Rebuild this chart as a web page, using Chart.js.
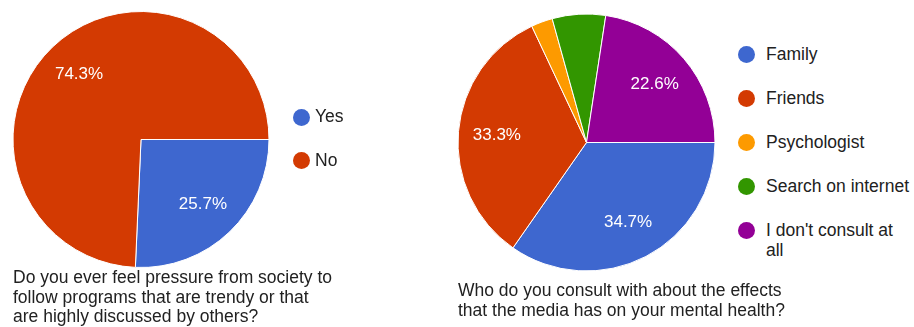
<!DOCTYPE html>
<html lang="en">
<head>
<meta charset="UTF-8">
<title>Survey pies</title>
<script src="https://cdn.jsdelivr.net/npm/chart.js"></script>
<style>
  body { margin: 0; width: 914px; height: 327px; position: relative; overflow: hidden; background: #fff;
         font-family: "Liberation Sans", Arial, sans-serif; color: #212121; }
  canvas { position: absolute; }
  .title { position: absolute; font-size: 17.5px; line-height: 19.7px; white-space: nowrap; }
  .item { position: absolute; font-size: 17.5px; line-height: 19.7px; width: 146px; }
  .dot { position: absolute; border-radius: 50%; }
</style>
</head>
<body>
<canvas id="pie1" width="282" height="279" style="left:0;top:0"></canvas>
<canvas id="pie2" width="279" height="279" style="left:447px;top:3px"></canvas>
<div class="title" id="title1" style="left:13px;top:268px"></div>
<div class="title" id="title2" style="left:458px;top:281px"></div>
<div id="legend1"></div>
<div id="legend2"></div>
<script>
// first question
const labels1 = ['Yes', 'No'];
const values1 = [25.7, 74.3];
const title1 = ['Do you ever feel pressure from society to',
                'follow programs that are trendy or that',
                'are highly discussed by others?'];

// second question
const labels2 = ['Family', 'Friends', 'Psychologist', 'Search on internet', "I don't consult at all"];
const values2 = [34.7, 33.3, 2.7, 6.7, 22.6];
const title2 = ['Who do you consult with about the effects',
                'that the media has on your mental health?'];

const palette = ['#3e67cf', '#d33a02', '#fd9a00', '#329600', '#930096'];

// percentage text inside the bigger slices
const pctLabels = {
  id: 'pctLabels',
  afterDatasetsDraw(chart) {
    const ctx = chart.ctx;
    const vals = chart.data.datasets[0].data;
    const total = vals.reduce((a, b) => a + b, 0);
    ctx.save();
    ctx.fillStyle = '#fff';
    ctx.font = '17px "Liberation Sans", Arial, sans-serif';
    ctx.textAlign = 'center';
    ctx.textBaseline = 'middle';
    chart.getDatasetMeta(0).data.forEach((arc, i) => {
      const pct = vals[i] / total * 100;
      if (pct < 10) return;
      const p = arc.getProps(['x', 'y', 'startAngle', 'endAngle', 'outerRadius'], true);
      const mid = (p.startAngle + p.endAngle) / 2;
      const r = p.outerRadius * 0.7;
      ctx.fillText(pct.toFixed(1) + '%', p.x + Math.cos(mid) * r, p.y + Math.sin(mid) * r);
    });
    ctx.restore();
  }
};

function makePie(id, labels, values, radius) {
  return new Chart(document.getElementById(id), {
    type: 'pie',
    data: {
      labels: labels,
      datasets: [{
        data: values,
        backgroundColor: palette.slice(0, values.length),
        borderColor: '#fff',
        borderWidth: 1,
        hoverOffset: 0
      }]
    },
    options: {
      responsive: false,
      animation: false,
      events: [],
      rotation: 90,
      radius: radius,
      layout: { padding: 0 },
      plugins: { legend: { display: false }, tooltip: { enabled: false } }
    },
    plugins: [pctLabels]
  });
}

function makeLegend(id, labels, dotX, textX, y0, gap) {
  const box = document.getElementById(id);
  labels.forEach((lab, i) => {
    const cy = y0 + i * gap;
    const item = document.createElement('div');
    item.className = 'item';
    item.style.left = textX + 'px';
    item.style.top = (cy - 9.85) + 'px';
    item.textContent = lab;
    const dot = document.createElement('span');
    dot.className = 'dot';
    dot.style.width = dot.style.height = '17px';
    dot.style.left = (dotX - textX - 8.5) + 'px';
    dot.style.top = (9.85 - 8.5) + 'px';
    dot.style.background = palette[i];
    item.appendChild(dot);
    box.appendChild(item);
  });
}

document.getElementById('title1').innerHTML = title1.join('<br>');
document.getElementById('title2').innerHTML = title2.join('<br>');

makePie('pie1', labels1, values1, 128);
makePie('pie2', labels2, values2, 128.5);
makeLegend('legend1', labels1, 301, 315, 117.3, 43.7);
makeLegend('legend2', labels2, 746, 766, 55, 44);
</script>
</body>
</html>
